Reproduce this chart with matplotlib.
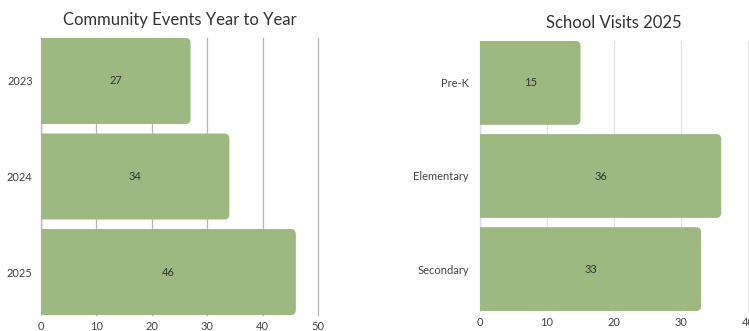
import matplotlib
matplotlib.use("Agg")
import matplotlib.pyplot as plt
from matplotlib.patches import FancyBboxPatch

years = ["2023", "2024", "2025"]
events = [27, 34, 46]
levels = ["Pre-K", "Elementary", "Secondary"]
visits = [15, 36, 33]

BAR = "#9db881"
plt.rcParams['font.family'] = ['Lato', 'DejaVu Sans']

fig = plt.figure(figsize=(7.49, 3.31), dpi=100)
fig.patch.set_facecolor("white")

def panel(rect, cats, vals, xmax, title, gridc, pad):
    ax = fig.add_axes(rect)
    ys = list(range(len(cats)))
    bars = ax.barh(ys, vals, height=0.9, color=BAR, zorder=2)
    ax.set_xlim(0, xmax)
    ax.set_ylim(len(cats) - 0.55, -0.45)
    ax.set_yticks(ys)
    ax.set_yticklabels(cats)
    ax.set_xticks(range(0, xmax + 1, 10))
    ax.tick_params(length=0, labelsize=8, colors="#444444")
    ax.tick_params(axis='y', pad=pad)
    ax.tick_params(axis='x', pad=4)
    for s in ax.spines.values():
        s.set_visible(False)
    ax.grid(axis='x', color=gridc, linewidth=0.9, zorder=0)
    for gl in ax.get_xgridlines():
        gl.set_clip_on(False)
    ax.axvline(0, color="#777777", linewidth=0.9, zorder=1)
    ax.set_title(title, fontsize=12, color="#333333", pad=9)
    fig.canvas.draw()
    inv = ax.transData.inverted()
    (x0, y0), (x1, y1) = inv.transform([(0, 0), (1, 1)])
    dx, dy = abs(x1 - x0), abs(y1 - y0)
    rpx = 5
    for b, v in zip(bars, vals):
        b.set_visible(False)
        yb = b.get_y()
        h = b.get_height()
        p = FancyBboxPatch((-rpx * dx * 2, yb), v + rpx * dx * 2, h,
                           boxstyle=f"round,pad=0,rounding_size={rpx*dx}",
                           mutation_aspect=dy / dx, facecolor=BAR,
                           edgecolor="none", zorder=2, clip_on=True)
        ax.add_patch(p)
        ax.text(v / 2, yb + h / 2, str(v), ha='center', va='center',
                fontsize=8, color="#333333", zorder=3)
    return ax

panel([41/749, 16/331, 277/749, 277/331], years, events, 50,
      "Community Events Year to Year", "#b5b5b5", 6)
panel([480/749, 20/331, 268/749, 270/331], levels, visits, 40,
      "School Visits 2025", "#e2e2e2", 8)

fig.savefig("out.png", dpi=100)
